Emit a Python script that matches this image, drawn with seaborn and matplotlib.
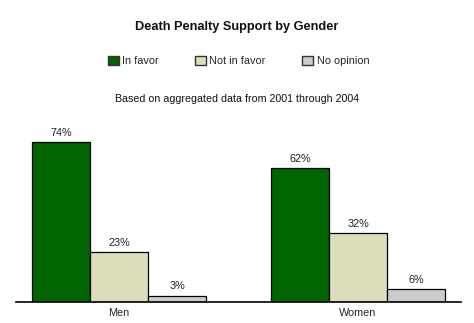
import matplotlib
matplotlib.use("Agg")
import matplotlib.pyplot as plt
import seaborn as sns
import pandas as pd
from matplotlib.patches import Patch

groups = ["Men", "Women"]
series = ["In favor", "Not in favor", "No opinion"]
in_favor = [74, 62]
not_in_favor = [23, 32]
no_opinion = [3, 6]
colors = ["#006400", "#DEDEBC", "#CCCCCC"]

rows = []
for i, g in enumerate(groups):
    for s, vals in zip(series, [in_favor, not_in_favor, no_opinion]):
        rows.append({"group": g, "series": s, "value": vals[i]})
df = pd.DataFrame(rows)

sns.set_theme(style="white")
plt.rcParams['font.family'] = ['Liberation Sans', 'DejaVu Sans']

fig = plt.figure(figsize=(4.74, 3.23), dpi=100)
H = 323
W = 474
ax = fig.add_axes([16 / W, 21 / H, (461 - 16) / W, 182 / H])

sns.barplot(data=df, x="group", y="value", hue="series", hue_order=series,
            palette=colors, width=0.728, edgecolor="black", linewidth=0.9,
            saturation=1, ax=ax, legend=False)

for cont in ax.containers:
    ax.bar_label(cont, labels=[f"{int(v)}%" for v in cont.datavalues],
                 padding=3, fontsize=7.8, color="#222222")

ax.set_ylim(0, 182 / 2.16)
ax.set_xlim(-0.431, 1.431)
ax.set_xlabel("")
ax.set_ylabel("")
ax.set_yticks([])
for sp in ["top", "right", "left"]:
    ax.spines[sp].set_visible(False)
ax.spines["bottom"].set_color("black")
ax.spines["bottom"].set_linewidth(1.2)
ax.tick_params(axis="x", length=0, labelsize=7.8, pad=4)

fig.text(0.5, 1 - 27 / H, "Death Penalty Support by Gender", ha="center", va="center",
         fontsize=9.2, fontweight="bold", color="#111111")
fig.text(0.5, 1 - 99 / H, "Based on aggregated data from 2001 through 2004", ha="center",
         va="center", fontsize=7.7, color="#111111")

handles = [Patch(facecolor=c, edgecolor="#333333", linewidth=1) for c in colors]
fig.legend(handles, series, loc="center", bbox_to_anchor=(0.503, 1 - 61 / H), ncol=3,
           frameon=False, fontsize=7.8, handlelength=1.0, handleheight=1.0,
           handletextpad=0.3, columnspacing=3.4)

fig.savefig("out.png", dpi=100)
